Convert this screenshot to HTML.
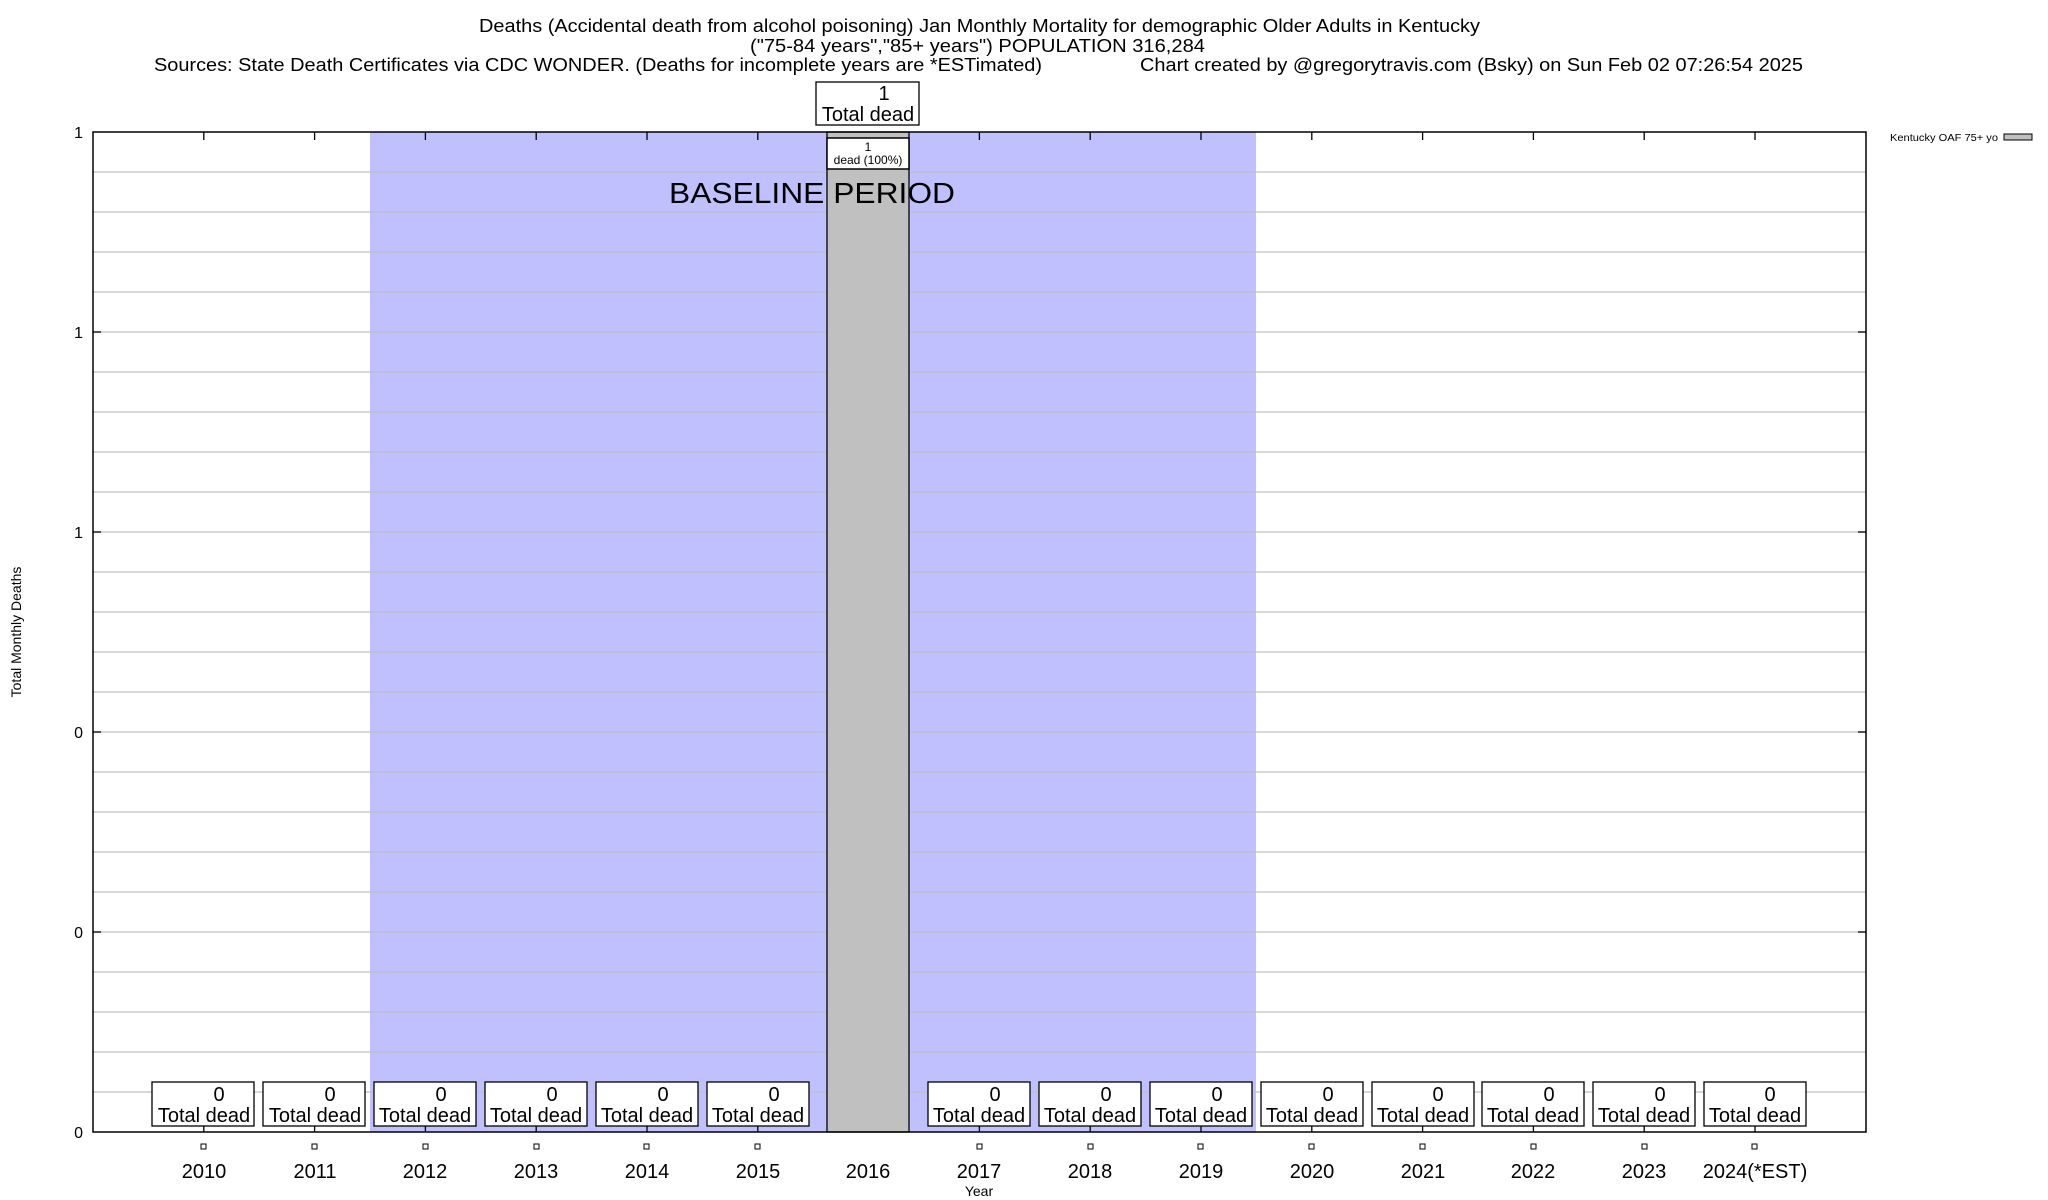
<!DOCTYPE html>
<html><head><meta charset="utf-8"><style>
html,body{margin:0;padding:0;background:#fff;}
svg{display:block;font-family:"Liberation Sans",Arial,sans-serif;}
</style></head><body>
<svg width="2048" height="1200" viewBox="0 0 2048 1200" xmlns="http://www.w3.org/2000/svg">
<rect width="2048" height="1200" fill="#fff"/>
<!-- titles -->
<text x="479" y="32" font-size="18" textLength="1001" lengthAdjust="spacingAndGlyphs">Deaths (Accidental death from alcohol poisoning) Jan Monthly Mortality for demographic Older Adults in Kentucky</text>
<text x="750" y="52" font-size="18" textLength="455" lengthAdjust="spacingAndGlyphs">("75-84 years","85+ years") POPULATION 316,284</text>
<text x="154" y="71" font-size="18" textLength="888" lengthAdjust="spacingAndGlyphs">Sources: State Death Certificates via CDC WONDER. (Deaths for incomplete years are *ESTimated)</text>
<text x="1140" y="71" font-size="18" textLength="663" lengthAdjust="spacingAndGlyphs">Chart created by @gregorytravis.com (Bsky) on Sun Feb 02 07:26:54 2025</text>
<!-- baseline region -->
<rect x="370" y="132" width="886" height="1000" fill="#c0c0ff"/>
<!-- gridlines -->
<g stroke="#c0c0c0" stroke-width="1.3">
<line x1="93" x2="1866" y1="172" y2="172"/><line x1="93" x2="1866" y1="212" y2="212"/><line x1="93" x2="1866" y1="252" y2="252"/><line x1="93" x2="1866" y1="292" y2="292"/><line x1="93" x2="1866" y1="332" y2="332"/><line x1="93" x2="1866" y1="372" y2="372"/><line x1="93" x2="1866" y1="412" y2="412"/><line x1="93" x2="1866" y1="452" y2="452"/><line x1="93" x2="1866" y1="492" y2="492"/><line x1="93" x2="1866" y1="532" y2="532"/><line x1="93" x2="1866" y1="572" y2="572"/><line x1="93" x2="1866" y1="612" y2="612"/><line x1="93" x2="1866" y1="652" y2="652"/><line x1="93" x2="1866" y1="692" y2="692"/><line x1="93" x2="1866" y1="732" y2="732"/><line x1="93" x2="1866" y1="772" y2="772"/><line x1="93" x2="1866" y1="812" y2="812"/><line x1="93" x2="1866" y1="852" y2="852"/><line x1="93" x2="1866" y1="892" y2="892"/><line x1="93" x2="1866" y1="932" y2="932"/><line x1="93" x2="1866" y1="972" y2="972"/><line x1="93" x2="1866" y1="1012" y2="1012"/><line x1="93" x2="1866" y1="1052" y2="1052"/><line x1="93" x2="1866" y1="1092" y2="1092"/>
</g>
<!-- bar 2016 -->
<rect x="827" y="132" width="82" height="1000" fill="#c0c0c0" stroke="#000" stroke-width="1.3"/>
<text x="812" y="203" font-size="29" text-anchor="middle" textLength="286" lengthAdjust="spacingAndGlyphs">BASELINE PERIOD</text>
<!-- inner label -->
<rect x="827" y="138" width="82" height="31" fill="#fff" stroke="#000" stroke-width="1.5"/>
<text x="868" y="151" font-size="12" text-anchor="middle">1</text>
<text x="868" y="164" font-size="12" text-anchor="middle">dead (100%)</text>
<!-- top label -->
<rect x="816" y="82" width="103" height="43" fill="#fff" stroke="#000" stroke-width="1.3"/>
<text x="884" y="100" font-size="20" text-anchor="middle">1</text>
<text x="868" y="121" font-size="20" text-anchor="middle">Total dead</text>
<!-- plot frame -->
<rect x="93" y="132" width="1773" height="1000" fill="none" stroke="#000" stroke-width="1.5"/>
<!-- y ticks -->
<g stroke="#000" stroke-width="1.3">
<line x1="93" x2="101" y1="332" y2="332"/><line x1="93" x2="101" y1="532" y2="532"/><line x1="93" x2="101" y1="732" y2="732"/><line x1="93" x2="101" y1="932" y2="932"/>
<line x1="1858" x2="1866" y1="332" y2="332"/><line x1="1858" x2="1866" y1="532" y2="532"/><line x1="1858" x2="1866" y1="732" y2="732"/><line x1="1858" x2="1866" y1="932" y2="932"/>
</g>
<g font-size="16" text-anchor="end">
<text x="83" y="138">1</text><text x="83" y="338">1</text><text x="83" y="538">1</text><text x="83" y="738">0</text><text x="83" y="938">0</text><text x="83" y="1138">0</text>
</g>
<text transform="translate(21,632) rotate(-90)" font-size="14" text-anchor="middle">Total Monthly Deaths</text>
<!-- x ticks, squares, labels, zero boxes -->
<g id="xt" stroke="#000" stroke-width="1.3"></g>
<g font-size="20" text-anchor="middle">
<!-- generated manually below -->
</g>
<g stroke="#000" stroke-width="1.3">
<line x1="203.8" x2="203.8" y1="132" y2="140"/><line x1="203.8" x2="203.8" y1="1124" y2="1132"/>
<line x1="314.6" x2="314.6" y1="132" y2="140"/><line x1="314.6" x2="314.6" y1="1124" y2="1132"/>
<line x1="425.4" x2="425.4" y1="132" y2="140"/><line x1="425.4" x2="425.4" y1="1124" y2="1132"/>
<line x1="536.2" x2="536.2" y1="132" y2="140"/><line x1="536.2" x2="536.2" y1="1124" y2="1132"/>
<line x1="647" x2="647" y1="132" y2="140"/><line x1="647" x2="647" y1="1124" y2="1132"/>
<line x1="757.8" x2="757.8" y1="132" y2="140"/><line x1="757.8" x2="757.8" y1="1124" y2="1132"/>
<line x1="979.4" x2="979.4" y1="132" y2="140"/><line x1="979.4" x2="979.4" y1="1124" y2="1132"/>
<line x1="1090.2" x2="1090.2" y1="132" y2="140"/><line x1="1090.2" x2="1090.2" y1="1124" y2="1132"/>
<line x1="1201" x2="1201" y1="132" y2="140"/><line x1="1201" x2="1201" y1="1124" y2="1132"/>
<line x1="1311.8" x2="1311.8" y1="132" y2="140"/><line x1="1311.8" x2="1311.8" y1="1124" y2="1132"/>
<line x1="1422.6" x2="1422.6" y1="132" y2="140"/><line x1="1422.6" x2="1422.6" y1="1124" y2="1132"/>
<line x1="1533.4" x2="1533.4" y1="132" y2="140"/><line x1="1533.4" x2="1533.4" y1="1124" y2="1132"/>
<line x1="1644.2" x2="1644.2" y1="132" y2="140"/><line x1="1644.2" x2="1644.2" y1="1124" y2="1132"/>
<line x1="1755" x2="1755" y1="132" y2="140"/><line x1="1755" x2="1755" y1="1124" y2="1132"/>
</g>
<!-- zero label boxes -->
<g fill="#fff" stroke="#000" stroke-width="1.3">
<rect x="152" y="1082" width="102" height="44"/><rect x="263" y="1082" width="102" height="44"/><rect x="374" y="1082" width="102" height="44"/><rect x="485" y="1082" width="102" height="44"/><rect x="596" y="1082" width="102" height="44"/><rect x="707" y="1082" width="102" height="44"/>
<rect x="928" y="1082" width="102" height="44"/><rect x="1039" y="1082" width="102" height="44"/><rect x="1150" y="1082" width="102" height="44"/><rect x="1261" y="1082" width="102" height="44"/><rect x="1372" y="1082" width="102" height="44"/><rect x="1482" y="1082" width="102" height="44"/><rect x="1593" y="1082" width="102" height="44"/><rect x="1704" y="1082" width="102" height="44"/>
</g>
<g font-size="20" text-anchor="middle">
<text x="219" y="1101">0</text><text x="204" y="1122">Total dead</text>
<text x="330" y="1101">0</text><text x="315" y="1122">Total dead</text>
<text x="441" y="1101">0</text><text x="425" y="1122">Total dead</text>
<text x="552" y="1101">0</text><text x="536" y="1122">Total dead</text>
<text x="663" y="1101">0</text><text x="647" y="1122">Total dead</text>
<text x="774" y="1101">0</text><text x="758" y="1122">Total dead</text>
<text x="995" y="1101">0</text><text x="979" y="1122">Total dead</text>
<text x="1106" y="1101">0</text><text x="1090" y="1122">Total dead</text>
<text x="1217" y="1101">0</text><text x="1201" y="1122">Total dead</text>
<text x="1328" y="1101">0</text><text x="1312" y="1122">Total dead</text>
<text x="1438" y="1101">0</text><text x="1423" y="1122">Total dead</text>
<text x="1549" y="1101">0</text><text x="1533" y="1122">Total dead</text>
<text x="1660" y="1101">0</text><text x="1644" y="1122">Total dead</text>
<text x="1770" y="1101">0</text><text x="1755" y="1122">Total dead</text>
</g>
<!-- small squares -->
<g fill="none" stroke="#000" stroke-width="1">
<rect x="201" y="1144" width="5" height="5"/><rect x="312" y="1144" width="5" height="5"/><rect x="423" y="1144" width="5" height="5"/><rect x="534" y="1144" width="5" height="5"/><rect x="644" y="1144" width="5" height="5"/><rect x="755" y="1144" width="5" height="5"/>
<rect x="977" y="1144" width="5" height="5"/><rect x="1088" y="1144" width="5" height="5"/><rect x="1198" y="1144" width="5" height="5"/><rect x="1309" y="1144" width="5" height="5"/><rect x="1420" y="1144" width="5" height="5"/><rect x="1531" y="1144" width="5" height="5"/><rect x="1642" y="1144" width="5" height="5"/><rect x="1752" y="1144" width="5" height="5"/>
</g>
<!-- year labels -->
<g font-size="20" text-anchor="middle">
<text x="204" y="1178">2010</text><text x="315" y="1178">2011</text><text x="425" y="1178">2012</text><text x="536" y="1178">2013</text><text x="647" y="1178">2014</text><text x="758" y="1178">2015</text><text x="868" y="1178">2016</text><text x="979" y="1178">2017</text><text x="1090" y="1178">2018</text><text x="1201" y="1178">2019</text><text x="1312" y="1178">2020</text><text x="1423" y="1178">2021</text><text x="1533" y="1178">2022</text><text x="1644" y="1178">2023</text><text x="1755" y="1178">2024(*EST)</text>
</g>
<text x="979" y="1196" font-size="14" text-anchor="middle">Year</text>
<!-- legend -->
<text x="1890" y="141" font-size="10" textLength="108" lengthAdjust="spacingAndGlyphs">Kentucky OAF 75+ yo</text>
<rect x="2004" y="134" width="28" height="6" fill="#c0c0c0" stroke="#000" stroke-width="1"/>
</svg>
</body></html>
